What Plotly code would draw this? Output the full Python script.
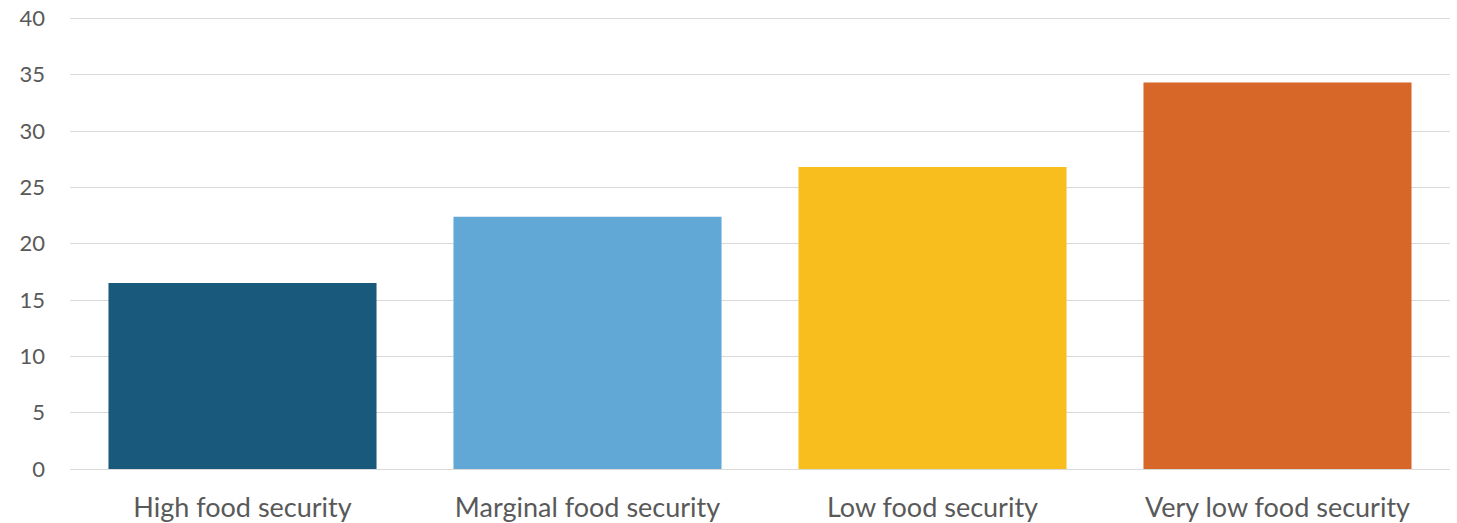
import plotly.graph_objects as go

categories = ["High food security", "Marginal food security", "Low food security", "Very low food security"]
values = [16.5, 22.4, 26.8, 34.3]
colors = ["#195A7C", "#61A8D7", "#F7BE1D", "#D66728"]
y_ticks = [0, 5, 10, 15, 20, 25, 30, 35, 40]

fig = go.Figure(go.Bar(
    x=categories, y=values,
    marker=dict(color=colors, line=dict(width=0)),
))

fig.update_layout(
    width=1457, height=523,
    margin=dict(l=70, r=7, t=15, b=54),
    paper_bgcolor="white", plot_bgcolor="white",
    bargap=0.223,
    showlegend=False,
    font=dict(family="Lato", color="#595959"),
)
fig.update_xaxes(
    showgrid=False, showline=False, zeroline=False,
    tickfont=dict(size=27, color="#595959"),
    ticklabelstandoff=20,
    ticklabeloverflow="allow",
    automargin=False,
)
fig.update_yaxes(
    range=[0, 40.3], tickvals=y_ticks,
    showgrid=True, gridcolor="#D9D9D9", gridwidth=1,
    zeroline=True, zerolinecolor="#D9D9D9", zerolinewidth=1,
    showline=False,
    tickfont=dict(size=22, color="#595959"),
    ticklabelstandoff=24,
    ticklabeloverflow="allow",
    automargin=False,
)

fig.write_html(
    "out.html",
    config={"displayModeBar": False},
    post_script="document.body.style.margin='0';",
)
